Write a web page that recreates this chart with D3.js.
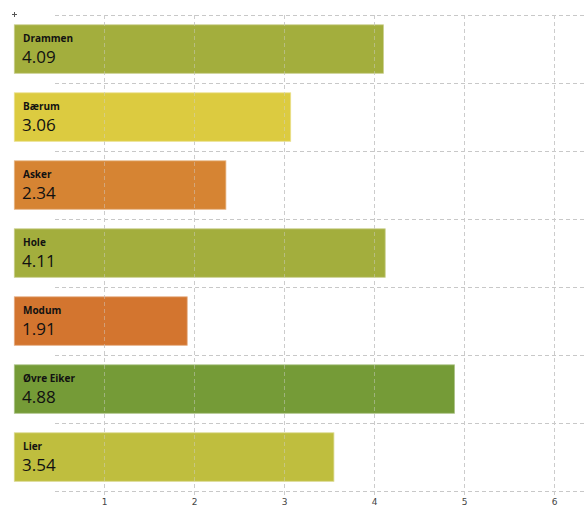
<!DOCTYPE html>
<html><head><meta charset="utf-8">
<script src="https://cdn.jsdelivr.net/npm/d3@7"></script>
<style>body{margin:0;background:#fff;}svg{display:block;}</style>
</head><body>
<svg id="c" width="587" height="507"></svg>
<script>
const categories = ["Drammen","Bærum","Asker","Hole","Modum","Øvre Eiker","Lier"];
const values = [4.09, 3.06, 2.34, 4.11, 1.91, 4.88, 3.54];
const colors = ["#a3ae3d","#dccb40","#d68433","#a3ae3d","#d3752f","#759b37","#bfbe3e"];
const tickValues = [1,2,3,4,5,6];

const svg = d3.select("#c");
const x = d3.scaleLinear().domain([0, 6]).range([14.3, 554.3]);
const y = d3.scaleBand().domain(categories).range([15.3, 491.3]).paddingInner(0.28).paddingOuter(0.14);
const step = y.step();

// horizontal grid lines at band boundaries
const hLines = d3.range(categories.length + 1).map(i => 15.3 + i * step);
svg.append("g").selectAll("line").data(hLines).join("line")
  .attr("x1", 55).attr("x2", 587)
  .attr("y1", d => Math.round(d) + 0.5).attr("y2", d => Math.round(d) + 0.5)
  .attr("stroke", "#c8c8c8").attr("stroke-dasharray", "4,3");

// vertical grid lines
svg.append("g").selectAll("line").data(tickValues).join("line")
  .attr("x1", d => Math.round(x(d)) + 0.5).attr("x2", d => Math.round(x(d)) + 0.5)
  .attr("y1", 15).attr("y2", 496)
  .attr("stroke", "#c8c8c8").attr("stroke-dasharray", "4,3");

// bars with light edge
svg.append("g").selectAll("rect").data(categories).join("rect")
  .attr("x", x(0)).attr("y", d => y(d))
  .attr("width", (d, i) => x(values[i]) - x(0) + 1)
  .attr("height", y.bandwidth() - 0.5)
  .attr("fill", (d, i) => colors[i])
  .attr("stroke", (d, i) => d3.interpolateRgb(colors[i], "#fff")(0.4))
  .attr("stroke-width", 0.8);

// vertical grid lines over bars
svg.append("g").selectAll("line").data(tickValues).join("line")
  .attr("x1", d => Math.round(x(d)) + 0.5).attr("x2", d => Math.round(x(d)) + 0.5)
  .attr("y1", 15).attr("y2", 496)
  .attr("stroke", "#d0d0d0").attr("stroke-opacity", 0.45).attr("stroke-dasharray", "4,3");

// labels
const lab = svg.append("g").selectAll("g").data(categories).join("g");
lab.append("text").attr("x", 23).attr("y", d => y(d) + 17.5)
  .attr("font-family", "'Open Sans', sans-serif").attr("font-weight", 700)
  .attr("font-size", 10).attr("fill", "#111").text(d => d);
lab.append("text").attr("x", 22).attr("y", d => y(d) + 38)
  .attr("font-family", "'Open Sans', sans-serif")
  .attr("font-size", 17).attr("fill", "#111").text((d, i) => d3.format(".2f")(values[i]));

// x tick labels
svg.append("g").selectAll("text").data(tickValues).join("text")
  .attr("x", d => Math.round(x(d)) + 0.5).attr("y", 504.5).attr("text-anchor", "middle")
  .attr("font-family", "'DejaVu Sans', sans-serif").attr("font-size", 9)
  .attr("fill", "#444").text(d => d);

// small cross at origin
svg.append("line").attr("x1", 12).attr("x2", 17).attr("y1", 14.5).attr("y2", 14.5).attr("stroke", "#555");
svg.append("line").attr("x1", 14.5).attr("x2", 14.5).attr("y1", 12).attr("y2", 17).attr("stroke", "#555");
</script>
</body></html>
